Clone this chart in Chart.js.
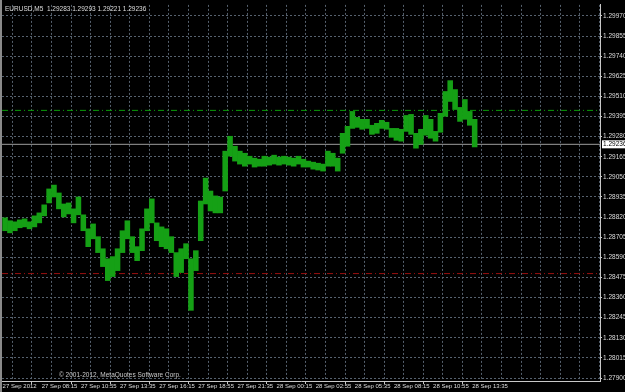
<!DOCTYPE html>
<html>
<head>
<meta charset="utf-8">
<title>EURUSD,M5</title>
<script src="https://cdn.jsdelivr.net/npm/chart.js@4.4.0/dist/chart.umd.min.js"></script>
<style>
  html, body { margin: 0; padding: 0; background: #000; overflow: hidden; }
  canvas { display: block; }
</style>
</head>
<body>
<canvas id="myChart" width="625" height="392"></canvas>
<script>
const symbol = 'EURUSD,M5';
const lastBar = ['1.29283', '1.29293', '1.29221', '1.29236']; // O H L C
const barsPerBlock = 4; // one block = 4 five-minute bars, starting 27 Sep 05:35

const highs = [
  1.28816, 1.28799, 1.28793, 1.28804, 1.28810, 1.28793, 1.28827, 1.28844, 1.28890, 1.28981,
  1.29003, 1.28958, 1.28895, 1.28901, 1.28867, 1.28935, 1.28833, 1.28753, 1.28781, 1.28708,
  1.28639, 1.28582, 1.28594, 1.28639, 1.28742, 1.28799, 1.28708, 1.28651, 1.28753, 1.28867,
  1.28924, 1.28787, 1.28764, 1.28753, 1.28708, 1.28617, 1.28639, 1.28668, 1.28582, 1.28628,
  1.28912, 1.29043, 1.28969, 1.28941, 1.28935, 1.29197, 1.29282, 1.29225, 1.29197, 1.29185,
  1.29168, 1.29157, 1.29151, 1.29168, 1.29163, 1.29174, 1.29163, 1.29168, 1.29163, 1.29157,
  1.29168, 1.29151, 1.29140, 1.29134, 1.29128, 1.29123, 1.29197, 1.29185, 1.29157, 1.29299,
  1.29339, 1.29424, 1.29390, 1.29379, 1.29379, 1.29345, 1.29356, 1.29373, 1.29362, 1.29327,
  1.29327, 1.29322, 1.29401, 1.29407, 1.29299, 1.29322, 1.29401, 1.29379, 1.29310, 1.29413,
  1.29538, 1.29600, 1.29549, 1.29447, 1.29492, 1.29424, 1.29379
];
const lows = [
  1.28742, 1.28730, 1.28742, 1.28759, 1.28764, 1.28753, 1.28764, 1.28787, 1.28827, 1.28901,
  1.28935, 1.28867, 1.28821, 1.28838, 1.28787, 1.28833, 1.28742, 1.28651, 1.28696, 1.28617,
  1.28537, 1.28457, 1.28480, 1.28514, 1.28617, 1.28696, 1.28617, 1.28571, 1.28628, 1.28742,
  1.28787, 1.28685, 1.28651, 1.28639, 1.28617, 1.28480, 1.28503, 1.28582, 1.28287, 1.28514,
  1.28685, 1.28895, 1.28855, 1.28844, 1.28844, 1.28969, 1.29168, 1.29140, 1.29123, 1.29111,
  1.29123, 1.29106, 1.29111, 1.29111, 1.29117, 1.29123, 1.29117, 1.29123, 1.29117, 1.29111,
  1.29123, 1.29106, 1.29106, 1.29094, 1.29089, 1.29083, 1.29111, 1.29111, 1.29083, 1.29185,
  1.29225, 1.29327, 1.29333, 1.29322, 1.29327, 1.29293, 1.29299, 1.29327, 1.29322, 1.29276,
  1.29259, 1.29254, 1.29310, 1.29293, 1.29214, 1.29236, 1.29288, 1.29271, 1.29254, 1.29305,
  1.29396, 1.29481, 1.29435, 1.29367, 1.29379, 1.29345, 1.29221
];

// time labels, one every 32 bars
const timeLabels = [
  '27 Sep 2012', '27 Sep 08:15', '27 Sep 10:55', '27 Sep 13:35', '27 Sep 16:15',
  '27 Sep 18:55', '27 Sep 21:35', '28 Sep 00:15', '28 Sep 02:55', '28 Sep 05:35',
  '28 Sep 08:15', '28 Sep 10:55', '28 Sep 13:35'
];
const priceTicks = [
  1.27900, 1.28015, 1.28130, 1.28245, 1.28360, 1.28475, 1.28590, 1.28705, 1.28820, 1.28935,
  1.29050, 1.29165, 1.29280, 1.29395, 1.29510, 1.29625, 1.29740, 1.29855, 1.29970
];
const levelGreen = 1.29430;
const levelRed = 1.28497;
const bidPrice = 1.29236;

const xMin = -0.5;
const xMax = 488.5;
const yMin = 1.27883;
const yMax = 1.30033;

/*---------------------------------------*/
const gridColor = '#56616e';
const textColor = '#dedede';
const fontName = '"Liberation Sans", Arial, sans-serif';

const bars = highs.map(function(h, i) {
  return { x: i * barsPerBlock + 2, y: [lows[i], h] };
});

function level(price) {
  return [{ x: xMin, y: price }, { x: xMax, y: price }];
}

const background = {
  id: 'background',
  beforeDraw(chart) {
    const ctx = chart.ctx;
    ctx.save();
    ctx.fillStyle = '#000';
    ctx.fillRect(0, 0, chart.width, chart.height);
    ctx.restore();
  }
};

const mtText = {
  id: 'mtText',
  afterDraw(chart) {
    const { ctx, chartArea, scales } = chart;
    ctx.save();
    ctx.font = '6.5px ' + fontName;
    ctx.textBaseline = 'middle';
    ctx.fillStyle = textColor;
    ctx.fillText(symbol + '  ' + lastBar.join(' '), chartArea.left + 3, chartArea.top + 4);
    ctx.fillStyle = '#c8c8c8';
    ctx.fillText('\u00a9 2001-2012, MetaQuotes Software Corp.', chartArea.left + 57, chartArea.bottom - 6);
    // bid price box on the axis
    const y = scales.y.getPixelForValue(bidPrice);
    ctx.fillStyle = '#ffffff';
    ctx.fillRect(chartArea.right + 2, y - 4, 24, 8);
    ctx.fillStyle = '#000000';
    ctx.fillText(bidPrice.toFixed(5), chartArea.right + 3, y);
    // window frame on the left
    ctx.fillStyle = '#8a8a8a';
    ctx.fillRect(0, 0, 2, chart.height);
    ctx.restore();
  }
};

const config = {
  type: 'bar',
  data: {
    datasets: [
      {
        type: 'line',
        data: level(levelGreen),
        borderColor: '#0a9a0a',
        borderWidth: 1,
        borderDash: [6, 3, 1, 3],
        pointRadius: 0,
        order: 3
      },
      {
        type: 'line',
        data: level(levelRed),
        borderColor: '#9a1010',
        borderWidth: 1,
        borderDash: [6, 3, 1, 3],
        pointRadius: 0,
        order: 3
      },
      {
        type: 'line',
        data: level(bidPrice),
        borderColor: '#9c9c9c',
        borderWidth: 1,
        pointRadius: 0,
        order: 2
      },
      {
        label: symbol,
        data: bars,
        backgroundColor: '#15a015',
        borderWidth: 0,
        barPercentage: 1,
        categoryPercentage: 1,
        order: 1
      }
    ]
  },
  options: {
    responsive: false,
    animation: false,
    events: [],
    layout: { padding: { left: 2, top: 3, right: 0, bottom: 0 } },
    plugins: { legend: { display: false }, tooltip: { enabled: false } },
    scales: {
      x: {
        type: 'linear',
        min: xMin,
        max: xMax,
        offset: false,
        afterBuildTicks: function(scale) {
          const t = [];
          for (let v = 0; v <= xMax; v += 16) t.push({ value: v });
          scale.ticks = t;
        },
        afterFit: function(scale) { scale.height = 11; },
        grid: {
          color: gridColor,
          lineWidth: 1,
          tickLength: 3,
          tickColor: function(c) {
            return (c.tick && c.tick.value % 32 === 0 && c.tick.value / 32 < timeLabels.length) ? '#c8c8c8' : 'rgba(0,0,0,0)';
          }
        },
        border: { color: '#c8c8c8', width: 1, dash: [2, 2] },
        ticks: {
          autoSkip: false,
          maxRotation: 0,
          align: 'start',
          padding: -1,
          color: textColor,
          font: { family: fontName, size: 6 },
          callback: function(value) {
            const k = value / 32;
            return (value % 32 === 0 && k < timeLabels.length) ? timeLabels[k] : '';
          }
        }
      },
      y: {
        position: 'right',
        min: yMin,
        max: yMax,
        afterBuildTicks: function(scale) {
          scale.ticks = priceTicks.map(function(p) { return { value: p }; });
        },
        afterFit: function(scale) { scale.width = 25; },
        grid: { color: gridColor, lineWidth: 1, tickLength: 2, tickColor: '#c8c8c8' },
        border: { color: '#c8c8c8', width: 1, dash: [2, 2] },
        ticks: {
          autoSkip: false,
          padding: 1,
          color: textColor,
          font: { family: fontName, size: 6.5 },
          callback: function(value) { return value.toFixed(5); }
        }
      }
    }
  },
  plugins: [background, mtText]
};

const myChart = new Chart(document.getElementById('myChart'), config);
</script>
</body>
</html>
